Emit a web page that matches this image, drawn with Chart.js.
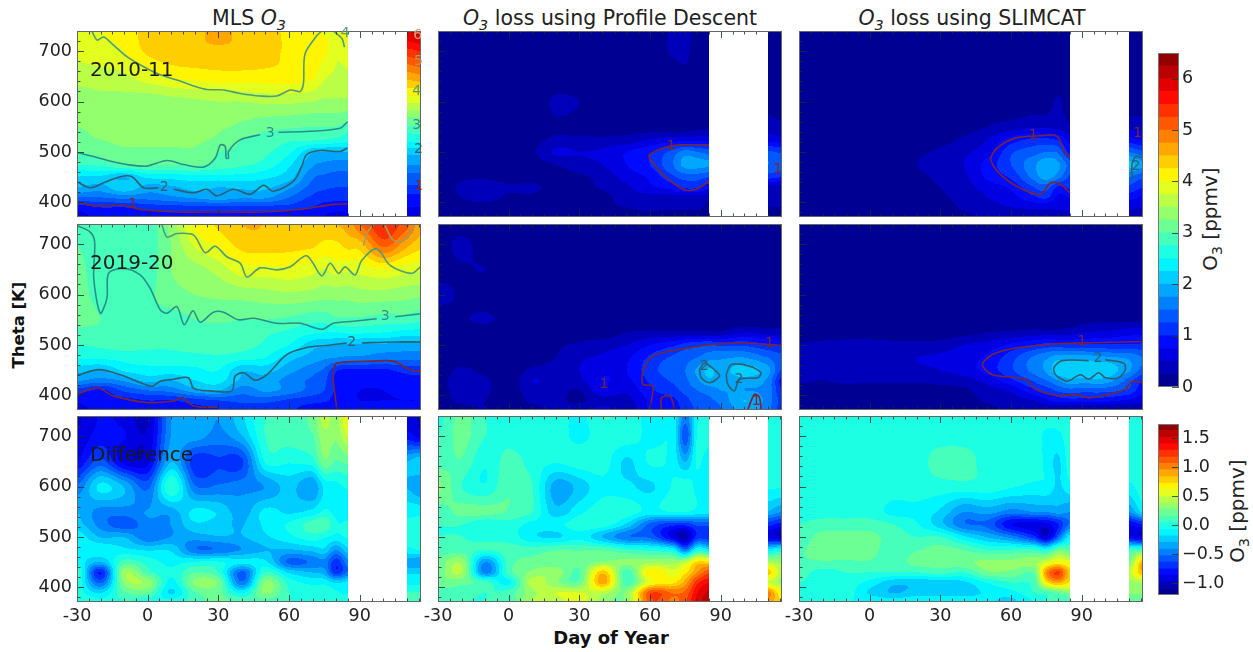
<!DOCTYPE html>
<html>
<head>
<meta charset="utf-8">
<title>O3 loss</title>
<script src="https://cdn.jsdelivr.net/npm/chart.js@4"></script>
<style>
  html, body { margin: 0; padding: 0; background: #fff; overflow: hidden; }
  #page { position: relative; width: 1253px; height: 652px; font-family: "DejaVu Sans", sans-serif; color: #222; }
  #page canvas { position: absolute; }
  .txt { position: absolute; white-space: nowrap; line-height: 1; }
  .mid { transform: translate(-50%, -50%); }
  .rot { transform: translate(-50%, -50%) rotate(-90deg); }
  sub { font-size: 70%; line-height: 0; }
</style>
</head>
<body>
<div id="page">
  <div class="txt mid" style="left:249px;top:18px;font-size:20.5px">MLS <i>O<sub>3</sub></i></div>
  <div class="txt mid" style="left:610px;top:18px;font-size:20.5px"><i>O<sub>3</sub></i> loss using Profile Descent</div>
  <div class="txt mid" style="left:972px;top:18px;font-size:20.5px"><i>O<sub>3</sub></i> loss using SLIMCAT</div>
  <div class="txt rot" style="left:19px;top:325px;font-size:16.5px;font-weight:bold;color:#111">Theta [K]</div>
  <div class="txt mid" style="left:611px;top:638px;font-size:18px;font-weight:bold;color:#111">Day of Year</div>
  <div class="txt rot" style="left:1210px;top:219px;font-size:20px">O<sub>3</sub> [ppmv]</div>
  <div class="txt rot" style="left:1237px;top:511px;font-size:20px">O<sub>3</sub> [ppmv]</div>
</div>
<script>
// grid of the contour fields
const days = [-30, -20, -10, 0, 10, 20, 30, 40, 50, 60, 70, 75, 80, 85, 90, 100, 110, 116];
const thetas = [375, 390, 410, 430, 450, 475, 500, 525, 550, 600, 650, 700, 740];
const dayTicks = [-30, 0, 30, 60, 90];
const thetaTicks = [400, 500, 600, 700];
const o3Ticks = [0, 1, 2, 3, 4, 5, 6];
const diffTicks = [-1, -0.5, 0, 0.5, 1, 1.5];
const columnTitles = ['MLS O3', 'O3 loss using Profile Descent', 'O3 loss using SLIMCAT'];
const rowLabels = ['2010-11', '2019-20', 'Difference'];

const o3Levels = [0, 0.25, 0.5, 0.75, 1, 1.25, 1.5, 1.75, 2, 2.25, 2.5, 2.75, 3, 3.25, 3.5, 3.75, 4, 4.25, 4.5, 4.75, 5, 5.25, 5.5, 5.75, 6, 6.25, 6.5];
const diffLevels = [-1.2, -1.09, -0.97, -0.86, -0.75, -0.63, -0.52, -0.41, -0.29, -0.18, -0.07, 0.05, 0.16, 0.28, 0.39, 0.5, 0.62, 0.73, 0.84, 0.96, 1.07, 1.18, 1.3, 1.41, 1.52, 1.64, 1.75];

// values per theta (bottom row first), one column per day
const mls1011 = [
  [0.7,0.8,0.85,0.9,0.9,0.9,0.9,0.9,0.9,0.8,0.8,0.75,0.7,0.7,null,null,0.5,0.5],
  [0.85,1,1,1.1,1.15,1.15,1.15,1.15,1.15,1.15,1,0.9,0.85,0.85,null,null,0.75,0.75],
  [1.5,1.5,1.6,1.6,1.7,1.8,1.9,1.8,1.8,1.5,1.2,1.1,1.1,1.1,null,null,0.9,0.9],
  [2,1.9,2.2,1.9,1.95,2.1,2,2.05,2.05,1.8,1.4,1.3,1.25,1.25,null,null,1.2,1.2],
  [2.2,2.2,2,2.3,2.35,2.4,2.4,2.4,2.3,2.1,1.55,1.45,1.4,1.4,null,null,1.4,1.4],
  [2.75,2.8,3,3.05,3,3.05,2.9,2.8,2.65,2.3,1.8,1.7,1.65,1.65,null,null,1.75,1.75],
  [3,3.1,3.2,3.2,3.2,3.2,3,2.95,2.8,2.55,2.05,2,2,2,null,null,2.1,2.1],
  [3.2,3.25,3.3,3.3,3.3,3.3,3.2,3,2.9,2.8,2.8,2.75,2.7,2.6,null,null,2.6,2.6],
  [3.25,3.3,3.35,3.3,3.35,3.35,3.3,3.2,3.1,3.05,3,3,3,2.9,null,null,2.95,3],
  [3.35,3.4,3.4,3.35,3.4,3.45,3.5,3.5,3.55,3.55,3.5,3.45,3.45,3.45,null,null,3.8,3.8],
  [3.6,3.65,3.7,3.9,4.05,4.1,4.15,4.15,4.15,4.15,4.05,3.8,3.7,3.7,null,null,4.6,4.7],
  [3.85,3.9,4,4.3,4.4,4.45,4.45,4.45,4.35,4.2,4.1,4.05,3.8,3.85,null,null,5.4,5.5],
  [4,4,4.1,4.35,4.4,4.45,4.55,4.45,4.35,4.2,4.15,4,4,4.1,null,null,6,6.1]
];
const pdLoss1011 = [
  [0.1,0.1,0.1,0.1,0.1,0.1,0.1,0.1,0.2,0.2,0.15,0.15,0.15,0.15,null,null,0.2,0.2],
  [0.1,0.15,0.15,0.15,0.1,0.1,0.1,0.2,0.25,0.3,0.3,0.3,0.3,0.2,null,null,0.25,0.25],
  [0.1,0.25,0.35,0.2,0.2,0.1,0.1,0.15,0.4,0.4,0.4,0.4,0.4,0.35,null,null,0.3,0.3],
  [0.1,0.3,0.45,0.3,0.3,0.15,0.15,0.3,0.45,0.7,0.85,1.05,1.05,0.85,null,null,0.4,0.4],
  [0.05,0.2,0.2,0.1,0.15,0.15,0.2,0.35,0.6,0.8,1.2,1.35,1.35,1.25,null,null,1.1,1],
  [0.05,0.1,0.1,0.1,0.15,0.25,0.4,0.5,0.75,1,1.5,1.85,1.85,1.8,null,null,1.5,1.4],
  [0.05,0.1,0.1,0.1,0.2,0.55,0.5,0.55,0.75,0.95,1.35,1.6,1.5,1.4,null,null,1.3,1.2],
  [0.05,0.05,0.1,0.1,0.15,0.3,0.3,0.3,0.35,0.5,0.6,0.65,0.65,0.65,null,null,0.65,0.6],
  [0.05,0.05,0.05,0.05,0.05,0.2,0.15,0.1,0.1,0.1,0.1,0.1,0.15,0.2,null,null,0.4,0.3],
  [0.05,0.05,0.05,0.05,0.05,0.3,0.25,0.1,0.05,0.05,0.05,0.05,0.1,0.2,null,null,0.1,0.1],
  [0.05,0.05,0.2,0.05,0.05,0.05,0.05,0.05,0.05,0.05,0.05,0.15,0.1,0.1,null,null,0.05,0.05],
  [0.05,0.05,0.05,0.05,0.05,0.05,0.05,0.05,0.05,0.05,0.3,0.35,0.05,0.05,null,null,0.05,0.05],
  [0.05,0.05,0.05,0.05,0.05,0.05,0.05,0.05,0.05,0.05,0.3,0.4,0.1,0.05,null,null,0.05,0.05]
];
const slimLoss1011 = [
  [0.05,0.05,0.05,0.05,0.05,0.05,0.05,0.2,0.3,0.3,0.4,0.4,0.4,0.4,null,null,0.4,0.35],
  [0.05,0.05,0.05,0.05,0.05,0.05,0.1,0.3,0.4,0.5,0.55,0.55,0.55,0.6,null,null,0.55,0.5],
  [0.05,0.05,0.05,0.05,0.05,0.1,0.2,0.35,0.5,0.65,0.95,1.05,0.7,0.75,null,null,0.85,0.7],
  [0.05,0.05,0.05,0.05,0.05,0.15,0.25,0.4,0.6,0.8,1.25,1.35,0.95,1.05,null,null,1.2,1],
  [0.05,0.05,0.05,0.05,0.1,0.2,0.3,0.45,0.8,1.05,1.6,1.85,1.6,1.2,null,null,1.5,1.3],
  [0.05,0.05,0.05,0.05,0.15,0.25,0.35,0.5,0.85,1.25,1.7,1.95,1.8,1.4,null,null,2.1,1.8],
  [0.05,0.05,0.05,0.05,0.1,0.2,0.3,0.45,0.65,1.2,1.4,1.5,1.45,0.9,null,null,1.5,1.3],
  [0.05,0.05,0.05,0.05,0.05,0.05,0.15,0.3,0.5,0.85,1.05,1.05,0.95,0.65,null,null,0.85,0.7],
  [0.05,0.05,0.05,0.05,0.05,0.05,0.05,0.1,0.25,0.35,0.45,0.45,0.4,0.3,null,null,0.4,0.4],
  [0.05,0.05,0.05,0.05,0.05,0.05,0.05,0.05,0.05,0.05,0.1,0.1,0.3,0.05,null,null,0.1,0.1],
  [0.05,0.05,0.05,0.05,0.05,0.05,0.05,0.05,0.05,0.05,0.05,0.05,0.05,0.05,null,null,0.05,0.05],
  [0.05,0.05,0.05,0.05,0.05,0.05,0.05,0.05,0.05,0.05,0.05,0.05,0.05,0.05,null,null,0.05,0.05],
  [0.05,0.05,0.05,0.05,0.05,0.05,0.05,0.05,0.05,0.05,0.05,0.05,0.05,0.05,null,null,0.05,0.05]
];
const mls1920 = [
  [0.7,0.8,0.8,0.85,0.85,0.95,1,1.05,1.1,1.05,0.9,0.85,0.85,0.8,0.8,0.8,0.8,0.8],
  [0.8,0.9,0.9,1,1,1.15,1.25,1.35,1.35,1.2,1.1,1.05,0.9,0.8,0.75,0.75,0.75,0.75],
  [1.15,0.95,1.3,1.5,1.6,1.9,2,1.6,1.8,1.65,1.4,1.25,0.95,0.8,0.75,0.75,0.8,0.8],
  [1.8,1.65,1.8,2.1,2,2.25,2.35,1.95,1.9,1.65,1.45,1.3,0.95,0.85,0.8,0.8,0.9,0.95],
  [2.1,2,2.3,2.4,2.4,2.45,2.5,2.05,2.1,1.85,1.6,1.45,1.05,0.95,0.95,0.95,1.1,1.1],
  [2.55,2.55,2.6,2.65,2.65,2.65,2.7,2.6,2.5,2.1,1.9,1.8,1.75,1.7,1.7,1.6,1.6,1.6],
  [2.75,2.8,2.85,2.8,2.8,2.9,2.9,2.85,2.7,2.5,2.1,2.05,2,1.95,1.95,1.95,1.9,1.9],
  [2.95,2.95,2.95,2.9,2.9,2.95,2.9,2.95,2.8,2.7,2.55,2.5,2.5,2.55,2.55,2.5,2.4,2.4],
  [3.05,3,2.95,2.95,2.9,3,3.05,3,3,2.95,2.85,2.85,2.95,2.95,2.95,2.9,2.9,2.8],
  [3.05,2.95,2.9,2.95,3.15,3.25,3.3,3.35,3.4,3.45,3.4,3.35,3.35,3.35,3.4,3.4,3.35,3.3],
  [3.05,2.9,2.85,2.85,3.25,3.4,3.6,3.9,3.9,3.95,3.85,3.75,3.85,3.8,3.85,4,3.85,3.8],
  [3,2.85,2.8,2.85,3.25,3.8,4.05,4.35,4.4,4.35,4.3,4.2,4.2,4.35,4.4,5.1,4.6,4.35],
  [2.9,2.8,2.8,2.85,3.35,4.05,4.3,4.5,4.5,4.45,4.35,4.35,4.5,4.6,5,5.5,5.1,4.6]
];
const pdLoss1920 = [
  [0.15,0.2,0.25,0.1,0.2,0.3,0.35,0.55,0.35,0.8,0.9,1.1,1.3,1.4,1.5,1.9,1.6,1.1],
  [0.15,0.3,0.25,0.1,0.3,0.3,0.2,0.4,0.4,0.8,0.95,1.15,1.4,1.45,1.6,2,1.65,1.15],
  [0.15,0.35,0.3,0.1,0.4,0.35,0.25,0.7,0.55,0.95,1.15,1.35,1.5,1.6,1.75,1.75,1.65,1],
  [0.1,0.45,0.3,0.1,0.5,0.4,0.45,0.75,0.7,1.05,1.3,1.45,1.7,1.95,1.85,1.9,1.7,0.9],
  [0.05,0.3,0.15,0.05,0.3,0.35,0.5,0.7,0.75,1.15,1.4,1.5,1.8,2.05,1.9,2.15,1.85,1.2],
  [0.05,0.1,0.1,0.05,0.1,0.25,0.45,0.55,0.7,1.05,1.3,1.4,1.5,1.65,1.7,1.75,1.5,1.3],
  [0.05,0.05,0.05,0.05,0.1,0.2,0.3,0.4,0.5,0.75,0.95,1.1,1.2,1.25,1.2,1.2,1.05,1],
  [0.05,0.05,0.05,0.05,0.05,0.05,0.1,0.1,0.25,0.3,0.3,0.3,0.3,0.3,0.3,0.5,0.4,0.4],
  [0.05,0.2,0.3,0.15,0.05,0.05,0.05,0.05,0.05,0.05,0.05,0.05,0.05,0.05,0.05,0.05,0.05,0.05],
  [0.35,0.2,0.05,0.05,0.05,0.05,0.05,0.05,0.05,0.05,0.05,0.05,0.05,0.05,0.05,0.05,0.05,0.05],
  [0.1,0.2,0.25,0.05,0.05,0.05,0.05,0.05,0.05,0.05,0.05,0.05,0.05,0.05,0.05,0.05,0.05,0.05],
  [0.05,0.35,0.05,0.05,0.05,0.05,0.05,0.05,0.05,0.05,0.05,0.05,0.05,0.05,0.05,0.05,0.05,0.05],
  [0.05,0.05,0.05,0.05,0.05,0.05,0.05,0.05,0.05,0.05,0.05,0.05,0.05,0.05,0.05,0.05,0.05,0.05]
];
const slimLoss1920 = [
  [0.05,0.05,0.05,0.05,0.05,0.05,0.05,0.1,0.2,0.3,0.35,0.35,0.35,0.35,0.35,0.35,0.3,0.3],
  [0.05,0.05,0.05,0.05,0.05,0.05,0.1,0.15,0.3,0.4,0.5,0.7,0.85,0.9,0.9,0.85,0.7,0.6],
  [0.1,0.2,0.15,0.1,0.1,0.1,0.15,0.2,0.4,0.55,0.95,1.1,1.3,1.4,1.35,1.35,1.2,0.8],
  [0.3,0.25,0.3,0.3,0.3,0.3,0.35,0.4,0.6,0.95,1.3,1.5,1.75,1.95,1.9,1.9,1.4,1],
  [0.35,0.4,0.4,0.4,0.4,0.45,0.5,0.6,0.85,1.2,1.6,1.8,2.2,2.1,2.2,2.2,1.8,1.4],
  [0.4,0.45,0.45,0.45,0.45,0.5,0.55,0.65,0.8,1.15,1.55,1.7,1.9,1.9,1.9,1.8,1.7,1.5],
  [0.3,0.35,0.4,0.4,0.35,0.35,0.35,0.5,0.6,0.8,1,1.1,1.1,1.05,1.05,1.05,1.05,1.05],
  [0.05,0.05,0.05,0.05,0.05,0.05,0.1,0.15,0.25,0.3,0.35,0.35,0.35,0.4,0.5,0.55,0.65,0.65],
  [0.05,0.05,0.05,0.05,0.05,0.05,0.05,0.05,0.05,0.05,0.05,0.05,0.05,0.1,0.15,0.2,0.2,0.2],
  [0.05,0.05,0.05,0.05,0.05,0.05,0.05,0.05,0.05,0.05,0.05,0.05,0.05,0.05,0.05,0.05,0.05,0.05],
  [0.05,0.05,0.05,0.05,0.05,0.05,0.05,0.05,0.05,0.05,0.05,0.05,0.05,0.05,0.05,0.05,0.05,0.05],
  [0.05,0.05,0.05,0.05,0.05,0.05,0.05,0.05,0.05,0.05,0.05,0.05,0.05,0.05,0.05,0.05,0.05,0.05],
  [0.05,0.05,0.05,0.05,0.05,0.05,0.05,0.05,0.05,0.05,0.05,0.05,0.05,0.05,0.05,0.05,0.05,0.05]
];
const mlsDiff = [
  [0.05,-0.05,0.05,0,-0.05,0.1,0.2,0.1,0.15,0.05,0,0,0,0,null,null,0.1,0.1],
  [0,-0.2,0.15,0.2,-0.2,0.15,0.2,-0.1,0.3,0.05,0,0,-0.05,-0.1,null,null,0.05,0.05],
  [0.05,-0.55,0.3,0.35,-0.1,0.3,0.25,-0.5,0.3,0,-0.1,-0.1,-0.2,-0.15,null,null,-0.1,-0.1],
  [0.1,-0.75,0.35,0.1,-0.05,0.15,0.05,-0.55,0.05,-0.2,-0.3,-0.35,-0.7,-0.5,null,null,-0.2,-0.2],
  [-0.1,-0.3,0.1,0,-0.1,-0.05,-0.05,-0.15,-0.15,-0.55,-0.5,-0.45,-0.7,-0.45,null,null,-0.35,-0.4],
  [-0.1,-0.1,-0.15,-0.2,-0.2,-0.5,-0.5,-0.4,-0.3,-0.3,-0.25,-0.2,-0.4,-0.2,null,null,-0.1,-0.05],
  [-0.1,-0.3,-0.3,-0.5,-0.4,-0.35,-0.3,-0.3,-0.2,-0.1,0,-0.05,-0.1,-0.05,null,null,0,0],
  [-0.25,-0.45,-0.6,-0.45,-0.4,-0.2,-0.25,-0.3,-0.15,-0.05,0.1,0.15,-0.05,-0.05,null,null,-0.05,-0.05],
  [-0.3,-0.45,-0.45,-0.4,-0.35,-0.15,-0.2,-0.35,-0.15,-0.2,-0.15,-0.05,-0.1,-0.1,null,null,-0.1,-0.1],
  [-0.5,-0.15,-0.3,-0.55,0.05,-0.5,-0.5,-0.45,-0.4,-0.25,-0.4,-0.15,-0.1,-0.05,null,null,-0.3,-0.4],
  [-0.85,-0.6,-0.9,-0.9,-0.3,-0.7,-0.65,-0.65,-0.05,-0.05,0,0.25,0.15,0.2,null,null,-0.3,-0.2],
  [-0.95,-0.8,-0.85,-0.95,-0.4,-0.35,-0.45,-0.3,0.05,0.1,0.15,0.35,0.3,0.5,null,null,-0.8,-0.9],
  [-1,-0.85,-0.9,-1,-0.4,-0.3,-0.4,-0.2,0.05,0.1,0.2,0.45,0.35,0.65,null,null,-0.9,-1]
];
const pdDiff = [
  [0.05,0.05,0.05,0.1,0.4,0.45,0.55,0.35,0.3,1.15,1.05,1.15,1.45,1.6,null,null,0.95,0.7],
  [0.1,0.1,0.05,0.1,0.35,0.5,0.5,0.45,0.3,1.15,1.05,1.1,1.4,1.55,null,null,1,0.6],
  [0.25,0.2,0.1,-0.1,0.45,0.3,0.2,0.9,0.1,0.6,0.7,0.9,1.25,1.4,null,null,0.5,0.35],
  [0.2,0.4,-0.45,0.1,0.3,0.35,0.15,0.8,0.1,0.7,0.55,0.7,0.95,1.15,null,null,0.8,0.4],
  [0.2,0.35,-0.4,0.1,0.2,0.2,0.2,0.3,0.3,0.35,0.35,0.45,0.75,0.75,null,null,0.4,0.35],
  [0.1,0.1,0.05,0.1,0.1,0.15,0.15,0.15,0.05,0,-0.1,-0.5,-0.05,-0.15,null,null,-0.15,-0.05],
  [0.05,0.05,0,0,-0.15,-0.2,-0.1,-0.3,-0.5,-0.55,-0.9,-1.05,-0.7,-0.7,null,null,-0.9,-1],
  [0.05,0.05,-0.05,0,-0.1,-0.1,0,0,-0.2,-0.55,-0.7,-0.7,-0.6,-0.6,null,null,-0.7,-0.8],
  [0.1,0.2,0.2,0.15,0.05,-0.25,-0.1,0,0,-0.1,-0.05,-0.05,-0.1,-0.1,null,null,-0.3,-0.4],
  [0.3,0.05,-0.05,0.15,0.05,-0.35,-0.25,-0.1,-0.15,-0.2,-0.05,0,-0.1,-0.15,null,null,-0.05,-0.05],
  [0.1,0.15,-0.05,0.1,0,-0.05,0,0,-0.2,-0.05,-0.1,-0.3,-0.05,-0.15,null,null,0,0],
  [0.05,0.2,0.05,0,0,0,-0.1,0,0,-0.1,-0.1,-0.6,-0.05,0,null,null,0,0],
  [0,0.2,0.05,0,0,0,-0.1,0.05,0,-0.1,-0.1,-0.45,-0.1,0,null,null,0,0]
];
const slimDiff = [
  [0,0,-0.05,-0.1,-0.15,-0.1,-0.1,-0.1,-0.15,-0.2,-0.05,0.05,0.1,0.1,null,null,0.2,0.2],
  [0,0,0,-0.2,-0.3,-0.25,-0.25,-0.25,-0.15,-0.1,0.05,0.1,0.2,0.3,null,null,0.3,0.3],
  [0.05,0,0,-0.1,-0.25,-0.25,-0.25,-0.2,-0.05,0.05,0.1,0.7,0.9,0.7,null,null,0.35,0.4],
  [0.1,0,0.05,0.05,0.05,0.05,0.1,0.05,0.25,0.25,0.2,0.95,1.2,0.8,null,null,0.45,0.85],
  [0.15,0.15,0.15,0.15,0.1,0.2,0.2,0.25,0.3,0.3,0.35,0.5,0.65,0.55,null,null,0.25,0.85],
  [0.15,0.2,0.2,0.2,0.1,0.15,0.2,0.15,0.05,0.05,0.05,-0.05,0.2,0.15,null,null,0.05,0.1],
  [0.1,0.2,0.2,0.2,0.1,0.05,0.05,-0.15,-0.3,-0.45,-0.7,-0.95,-0.55,-0.1,null,null,-0.85,-0.95],
  [0.05,0.1,0.1,0.1,0.05,-0.05,-0.25,-0.5,-0.55,-0.85,-0.9,-0.9,-0.75,-0.5,null,null,-0.85,-0.75],
  [0,0,0,0,-0.1,-0.1,-0.2,-0.4,-0.35,-0.45,-0.4,-0.4,-0.35,-0.4,null,null,-0.4,-0.15],
  [0,0,0,0,0,0,0,0,0,-0.05,-0.1,-0.1,-0.2,-0.1,null,null,-0.1,0],
  [0.05,0,0,0,0,0,0.1,0.1,0,0,0,-0.1,-0.2,0,null,null,0,0],
  [0,0,0,0,0,0,0,0,0,0,0,-0.1,-0.1,0,null,null,0,0],
  [0,0,0,0,0,0,0,0,0,0,0,0,0,0,null,null,0,0]
];

// contour lines as [level, [[day, theta], ...]]
const mls1011Lines = [
  [4, [[-23.6,739],[-21.5,722],[-18.7,728],[-14.5,712],[-8.8,689],[-1.7,669],[5.3,653],[12.4,643],[19.5,631],[25.1,624],[32.2,623],[39.3,616],[47.7,611],[54.8,611],[60.5,623],[64.7,620],[66.1,636],[66.8,695],[71.8,731],[73.9,740]]],
  [4, [[78.8,740],[82.5,725],[83.5,708]]],
  [3, [[-30,499],[-23,491],[-16,482],[-8.8,475],[-0.3,472],[8.2,483],[15.2,475],[23.7,470],[28.7,488],[30.8,514],[32.9,511],[33.3,488],[34.3,488],[34.3,501],[39.2,524],[47.7,534]]],
  [3, [[55.5,539],[68.9,541],[81.7,547],[84.8,560]]],
  [2, [[-30,441],[-24.4,429],[-18.7,439],[-11.6,451],[-6.7,451],[-1.7,429],[4.6,429]]],
  [2, [[11,426],[19.5,419],[25.1,426],[29.4,413],[36.4,426],[43.5,416],[49.2,434],[53.4,422],[61.9,442],[65.4,472],[67.5,495],[73.2,503],[81.7,501],[84.8,508]]],
  [1, [[-30,401],[-23,393],[-10.2,394],[-3.2,386],[12.4,381],[30.8,381],[48.7,381],[64.7,386],[78.8,396],[84.8,397]]]
];
const mls1920Lines = [
  [3, [[-30,737],[-24.4,724],[-22.5,704],[-22.9,632],[-20.1,563],[-17.3,593],[-16.6,642],[-10.2,652],[-3.2,639],[1.1,612],[5.3,570],[8.2,563],[12.4,576],[15.5,540],[19.2,568],[22.3,545],[27.9,565],[32.2,565],[38.5,550],[44.9,553],[54.8,543],[64.7,543],[73.9,531],[78.8,543],[87.3,547],[97.2,552]]],
  [3, [[105,556],[116,562]]],
  [4, [[6,739],[8.2,714],[12.4,721],[19.5,718],[24.4,683],[28.7,696],[33.6,675],[39.3,662],[42.1,635],[47.7,653],[54.8,649],[60.5,655],[67.5,677],[73.9,637],[77.4,662],[81,642],[83.8,655],[88,639],[90.9,668],[97.2,691],[102.9,658],[112,642],[116,656]]],
  [5, [[91.5,697],[93.7,727],[96,739]]],
  [5, [[100.7,737],[104.3,708],[110,711],[112.8,737]]],
  [2, [[-30,440],[-20.8,451],[-11.6,441],[1.8,418],[5.3,428],[11,432],[17.3,435],[19.5,414],[26.5,409],[35.7,409],[37.1,438],[40.7,445],[45.6,430],[50.6,441],[59,481],[67.5,495],[76,499],[84.5,504]]],
  [2, [[90.9,504],[104.3,506],[116,506]]],
  [1, [[-30,402],[-21.5,415],[-14.5,399],[-0.3,386],[11,389],[14.5,395],[19.5,379],[29.4,376]]],
  [1, [[80.3,372],[78.8,428],[78.8,448],[80.3,464],[95.8,468],[104.3,468],[111.4,451],[116,448]]]
];
const pdLoss1011Lines = [
  [1, [[85,442],[79.6,426],[74,426],[65.5,455],[59.8,488],[59.8,495],[65.5,508],[72.5,514],[85,514]]]
];
const pdLoss1920Lines = [
  [1, [[59.8,372],[61.2,418],[57,422],[57,448],[61.2,478],[72.5,491],[86.6,501],[99.4,504],[116,499]]],
  [1, [[64.8,372],[64.8,395],[68.5,398],[70.5,372]]],
  [2, [[81,451],[83.1,464],[88,448],[89.5,438],[85.3,425],[81.7,435],[81,451]]],
  [2, [[92.3,441],[94.4,461],[102.2,458],[107.1,445],[105.7,435],[98,432],[95.8,409],[93,422],[92.3,441]]],
  [1, [[101.5,372],[104.3,402],[106.4,396],[107.1,372]]]
];
const slimLoss1011Lines = [
  [1, [[85,491],[83.1,495],[79.6,531],[71.8,532],[62,528],[54.2,508],[51.4,485],[56.3,452],[64.8,426],[72.5,416],[76.8,439],[81,436],[85,419]]],
  [2, [[111.5,445],[111.3,475],[113,491],[116,488]]]
];
const slimLoss1920Lines = [
  [1, [[116,507],[90.1,504],[77.5,502],[62,494],[52.1,481],[47.9,461],[52.1,441],[66.2,432],[70.4,412],[80.3,399],[87.3,402],[93,395],[101.4,402],[108.5,412],[111.3,428],[116,425]]],
  [2, [[93,469],[81.7,469],[78.2,455],[78.9,441],[83.8,428],[89.4,441],[93,432],[97.2,445],[100,435],[105.6,435],[108.5,451],[107.8,464],[100,471]]]
];

// contour labels as [text, day, theta]
const mls1011Marks = [['4',83.8,735],['3',52,537],['2',7,430],['1',-6.3,397],['6',114.6,731],['5',114.9,679],['4',114.2,620],['3',114.2,552],['2',114.9,505],['1',114.9,432]];
const mls1920Marks = [['3',100.8,556],['2',86.6,506]];
const pdLoss1011Marks = [['1',69,512],['1',114.2,465]];
const pdLoss1920Marks = [['1',110.7,504],['2',83.1,458],['2',97.7,432],['1',40.5,422],['1',105,389]];
const slimLoss1011Marks = [['1',69.4,532],['2',113,472],['1',113.8,537]];
const slimLoss1920Marks = [['1',90.1,507],['2',96.9,473]];

const lineColors = { 1: '#7a2438', 2: '#2e5f70', 3: '#2a8f88', 4: '#4f9c78', 5: '#ad9a58', 6: '#e0a070' };

function jet(v) {
  const c = t => Math.max(0, Math.min(1, 1.5 - Math.abs(4 * v - t)));
  return [Math.round(255 * c(3)), Math.round(255 * c(2)), Math.round(255 * c(1))];
}

function bandColor(value, levels) {
  const n = levels.length - 1;
  const step = (levels[n] - levels[0]) / n;
  const i = Math.max(0, Math.min(n - 1, Math.floor((value - levels[0]) / step)));
  return jet((i + 0.5) / n);
}

function fracIndex(list, v) {
  for (let i = 0; i < list.length - 1; i++) {
    if (v <= list[i + 1]) return i + Math.max(0, (v - list[i]) / (list[i + 1] - list[i]));
  }
  return list.length - 1;
}

function cubic(a, b, c, d, t) {
  return b + 0.5 * t * (c - a + t * (2 * a - 5 * b + 4 * c - d + t * (3 * (b - c) + d - a)));
}

// paints the filled contours, the field is looked up pixel by pixel through the chart scales
function heatPlugin(values, levels) {
  const filled = values.map(r => r.map((v, i) => (v !== null ? v : (i === 14 ? r[13] : r[16]))));
  const hasGap = values[0][14] === null;
  const nr = thetas.length, nc = days.length;
  return {
    id: 'heat',
    beforeDatasetsDraw(chart) {
      const { ctx, chartArea: a, scales: { x, y } } = chart;
      const w = Math.round(a.right - a.left), h = Math.round(a.bottom - a.top);
      const off = document.createElement('canvas');
      off.width = w; off.height = h;
      const oc = off.getContext('2d');
      const img = oc.createImageData(w, h);
      for (let py = 0; py < h; py++) {
        const fy = fracIndex(thetas, y.getValueForPixel(a.top + py + 0.5));
        const j = Math.floor(fy), ty = fy - j;
        for (let px = 0; px < w; px++) {
          const day = x.getValueForPixel(a.left + px + 0.5);
          if (hasGap && day > 85 && day < 110) continue;
          const fx = fracIndex(days, day);
          const i = Math.floor(fx), tx = fx - i;
          const col = [];
          for (let m = -1; m <= 2; m++) {
            const r = filled[Math.max(0, Math.min(nr - 1, j + m))];
            col.push(cubic(r[Math.max(0, i - 1)], r[i], r[Math.min(nc - 1, i + 1)], r[Math.min(nc - 1, i + 2)], tx));
          }
          const rgb = bandColor(cubic(col[0], col[1], col[2], col[3], ty), levels);
          const k = (py * w + px) * 4;
          img.data[k] = rgb[0]; img.data[k + 1] = rgb[1]; img.data[k + 2] = rgb[2]; img.data[k + 3] = 255;
        }
      }
      oc.putImageData(img, 0, 0);
      ctx.save();
      ctx.beginPath();
      ctx.rect(a.left, a.top, a.right - a.left, a.bottom - a.top);
      ctx.clip();
      ctx.filter = 'blur(0.7px)';
      ctx.drawImage(off, a.left, a.top);
      ctx.restore();
    }
  };
}

// inward ticks, frame and contour labels on top of the field
function framePlugin(marks) {
  return {
    id: 'frame',
    afterDatasetsDraw(chart) {
      const { ctx, chartArea: a, scales: { x, y } } = chart;
      ctx.save();
      ctx.strokeStyle = 'rgba(20,45,40,0.8)';
      ctx.lineWidth = 1;
      ctx.beginPath();
      for (let d = -30; d <= 115; d += 5) {
        const len = dayTicks.includes(d) ? 7 : 3.5;
        const px = Math.round(x.getPixelForValue(d)) + 0.5;
        ctx.moveTo(px, a.top); ctx.lineTo(px, a.top + len);
        ctx.moveTo(px, a.bottom); ctx.lineTo(px, a.bottom - len);
      }
      for (let t = 380; t <= 740; t += 20) {
        const len = thetaTicks.includes(t) ? 7 : 3.5;
        const py = Math.round(y.getPixelForValue(t)) + 0.5;
        ctx.moveTo(a.left, py); ctx.lineTo(a.left + len, py);
      }
      ctx.stroke();
      ctx.strokeStyle = '#666';
      ctx.strokeRect(a.left + 0.5, a.top + 0.5, a.right - a.left - 1, a.bottom - a.top - 1);
      ctx.font = '14px "DejaVu Sans"';
      ctx.textAlign = 'center';
      ctx.textBaseline = 'middle';
      marks.forEach(m => {
        ctx.fillStyle = lineColors[m[0]];
        ctx.fillText(m[0], x.getPixelForValue(m[1]), y.getPixelForValue(m[2]));
      });
      ctx.restore();
    }
  };
}

function addCanvas(left, top, w, h) {
  const c = document.createElement('canvas');
  c.style.left = left + 'px';
  c.style.top = top + 'px';
  c.style.width = w + 'px';
  c.style.height = h + 'px';
  c.width = w; c.height = h;
  document.getElementById('page').appendChild(c);
  return c;
}

const tickFont = { family: '"DejaVu Sans"', size: 17.5 };
const panelLeft = [77, 438, 799], panelTop = [31, 224, 416];
const panelW = 344, panelH = 186;

const panels = [
  [mls1011, pdLoss1011, slimLoss1011],
  [mls1920, pdLoss1920, slimLoss1920],
  [mlsDiff, pdDiff, slimDiff]
];
const panelLines = [
  [mls1011Lines, pdLoss1011Lines, slimLoss1011Lines],
  [mls1920Lines, pdLoss1920Lines, slimLoss1920Lines],
  [[], [], []]
];
const panelMarks = [
  [mls1011Marks, pdLoss1011Marks, slimLoss1011Marks],
  [mls1920Marks, pdLoss1920Marks, slimLoss1920Marks],
  [[], [], []]
];

panels.forEach((row, r) => row.forEach((values, c) => {
  const ml = c === 0 ? 50 : 24, mb = r === 2 ? 32 : 16, mt = 16, pad = 16;
  const canvas = addCanvas(panelLeft[c] - ml, panelTop[r] - mt, ml + panelW + pad, mt + panelH + mb);
  const levels = r === 2 ? diffLevels : o3Levels;
  const points = [];
  values.forEach((rowVals, j) => rowVals.forEach((v, i) => {
    if (v !== null) points.push({ x: days[i], y: thetas[j], v: v });
  }));
  const datasets = [{ label: rowLabels[r] + ' ' + columnTitles[c], data: points, pointRadius: 0, showLine: false }];
  panelLines[r][c].forEach(l => datasets.push({
    label: 'level ' + l[0],
    data: l[1].map(p => ({ x: p[0], y: p[1] })),
    showLine: true,
    pointRadius: 0,
    borderColor: lineColors[l[0]],
    borderWidth: 1.6,
    tension: 0.3
  }));
  new Chart(canvas, {
    type: 'scatter',
    data: { datasets: datasets },
    plugins: [heatPlugin(values, levels), framePlugin(panelMarks[r][c])],
    options: {
      responsive: false,
      animation: false,
      layout: { padding: { top: mt, right: pad, left: 0, bottom: 0 } },
      plugins: { legend: { display: false }, tooltip: { enabled: false } },
      scales: {
        x: {
          type: 'linear', min: -30, max: 116,
          grid: { display: false, drawTicks: false }, border: { display: false },
          afterBuildTicks: s => { s.ticks = dayTicks.map(v => ({ value: v })); },
          afterFit: s => { s.height = mb; },
          ticks: { display: r === 2, font: tickFont, color: '#222', padding: 4, maxRotation: 0, autoSkip: false }
        },
        y: {
          type: 'linear', min: 371, max: 740,
          grid: { display: false, drawTicks: false }, border: { display: false },
          afterBuildTicks: s => { s.ticks = thetaTicks.map(v => ({ value: v })); },
          afterFit: s => { s.width = ml; },
          ticks: { display: c === 0, font: tickFont, color: '#222', padding: 5, autoSkip: false }
        }
      }
    }
  });
}));

// colour bars
function colorBar(levels, ticks, top, height, fmt) {
  const m = 14;
  const canvas = addCanvas(1158, top - m, 21 + 56, height + 2 * m);
  const sets = [];
  for (let i = 0; i < levels.length - 1; i++) {
    const rgb = jet((i + 0.5) / (levels.length - 1));
    sets.push({ data: [[levels[i], levels[i + 1]]], backgroundColor: 'rgb(' + rgb.join(',') + ')', barPercentage: 1, categoryPercentage: 1, borderWidth: 0, borderSkipped: false });
  }
  new Chart(canvas, {
    type: 'bar',
    data: { labels: ['O3'], datasets: sets },
    plugins: [{
      id: 'barFrame',
      afterDatasetsDraw(chart) {
        const { ctx, chartArea: a, scales: { y } } = chart;
        ctx.save();
        ctx.strokeStyle = 'rgba(40,50,40,0.8)';
        ctx.beginPath();
        ticks.forEach(t => {
          const py = Math.round(y.getPixelForValue(t)) + 0.5;
          ctx.moveTo(a.right, py); ctx.lineTo(a.right - 7, py);
        });
        ctx.stroke();
        ctx.strokeStyle = '#777';
        ctx.strokeRect(a.left + 0.5, a.top + 0.5, a.right - a.left - 1, a.bottom - a.top - 1);
        ctx.restore();
      }
    }],
    options: {
      responsive: false,
      animation: false,
      layout: { padding: { top: m, bottom: m } },
      plugins: { legend: { display: false }, tooltip: { enabled: false } },
      scales: {
        x: { stacked: true, display: false },
        y: {
          position: 'right', min: levels[0], max: levels[levels.length - 1],
          grid: { display: false, drawTicks: false }, border: { display: false },
          afterBuildTicks: s => { s.ticks = ticks.map(v => ({ value: v })); },
          afterFit: s => { s.width = 56; },
          ticks: { font: tickFont, color: '#222', padding: 3, callback: fmt, autoSkip: false }
        }
      }
    }
  });
}
colorBar(o3Levels, o3Ticks, 53, 334, v => String(v));
colorBar(diffLevels, diffTicks, 424, 171, v => v.toFixed(1).replace('-', '\u2212'));

// panel captions
rowLabels.forEach((t, r) => {
  const d = document.createElement('div');
  d.className = 'txt';
  d.textContent = t;
  d.style.left = '90px';
  d.style.top = (panelTop[r] + 28) + 'px';
  d.style.fontSize = '20px';
  d.style.color = '#1a1a1a';
  d.style.zIndex = 5;
  document.getElementById('page').appendChild(d);
});
</script>
</body>
</html>
